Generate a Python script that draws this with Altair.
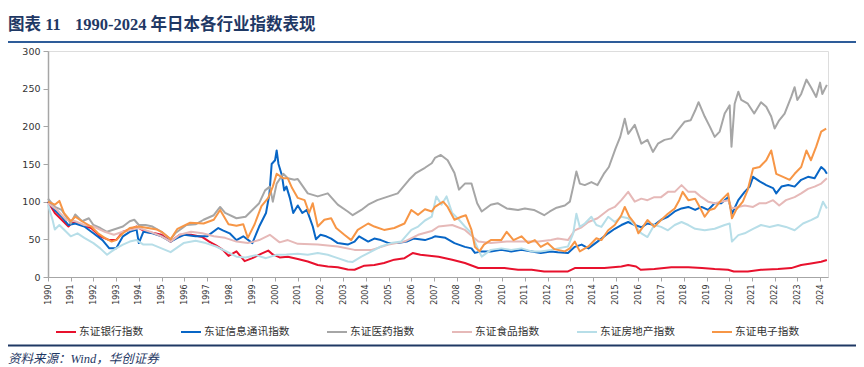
import altair as alt
import pandas as pd

TITLE_NO = "图表 11"
TITLE_TEXT = "1990-2024 年日本各行业指数表现"
SOURCE = "资料来源：Wind，华创证券"

SERIES = ["东证银行指数", "东证信息通讯指数", "东证医药指数", "东证食品指数", "东证房地产指数", "东证电子指数"]
COLORS = ["#E8112D", "#0866C6", "#A6A6A6", "#E6B9B8", "#B7DEE8", "#F79646"]

YEAR_TICKS = list(range(1990, 2025))
Y_TICKS = [0, 50, 100, 150, 200, 250, 300]

bank_x = [1990.0, 1990.3, 1990.6, 1990.9, 1991.1, 1991.5, 1991.9, 1992.3, 1992.7, 1993.0, 1993.3, 1993.6, 1993.9,
          1994.3, 1994.7, 1995.0, 1995.4, 1995.8, 1996.3, 1996.8, 1997.1, 1997.4, 1997.7, 1997.95, 1998.3, 1998.66,
          1999.0, 1999.4, 1999.7, 1999.9, 2000.2, 2000.56, 2001.0, 2001.44, 2001.88, 2002.32, 2002.76, 2003.2, 2003.5,
          2003.93, 2004.37, 2004.8, 2005.25, 2005.7, 2006.06, 2006.4, 2006.9, 2007.2, 2007.8, 2008.36, 2008.95, 2009.5,
          2010.1, 2010.7, 2011.3, 2011.85, 2012.45, 2012.9, 2013.2, 2013.8, 2014.5, 2015.25, 2015.55, 2015.9, 2016.1,
          2016.7, 2017.45, 2018.2, 2018.8, 2019.36, 2019.95, 2020.2, 2020.82, 2021.4, 2022.15, 2022.73, 2023.17,
          2023.6, 2024.05, 2024.3]
bank_v = [100, 85, 76, 67, 74, 69, 65, 54, 49, 49, 60, 63, 67,
          60, 58, 56, 47, 56, 56, 53, 47, 42, 36, 28, 34, 21,
          25, 31, 35, 30, 26, 27, 24, 20.6, 16, 14, 13, 10, 9.6,
          15, 16, 18.5, 23, 25, 31.8, 29.5, 28, 27, 23, 18.5, 12, 12,
          12, 9.6, 9.6, 7.4, 7.4, 7.4, 11.8, 11.8, 12, 14, 16, 14, 9.6,
          10.5, 13, 13, 11.8, 10.5, 9.6, 7.4, 7.4, 9.6, 10.5, 11.8, 16,
          18, 20.3, 22.5]

info_x = [1990.0, 1990.3, 1990.6, 1990.9, 1991.2, 1991.6, 1992.0, 1992.4, 1992.7, 1993.0, 1993.3, 1993.6, 1993.9,
          1994.0, 1994.2, 1994.6, 1995.0, 1995.4, 1995.7, 1996.0, 1996.5, 1997.0, 1997.5, 1997.7, 1998.0, 1998.3,
          1998.6, 1999.0, 1999.3, 1999.6, 1999.75, 1999.85, 2000.0, 2000.07, 2000.15, 2000.3, 2000.4, 2000.5, 2000.65,
          2000.8, 2001.0, 2001.2, 2001.4, 2001.66, 2001.8, 2002.0, 2002.25, 2002.47, 2002.76, 2003.2, 2003.5, 2003.7,
          2004.1, 2004.37, 2004.66, 2005.0, 2005.4, 2005.8, 2006.1, 2006.6, 2006.9, 2007.04, 2007.5, 2007.9, 2008.36,
          2008.65, 2008.8, 2009.1, 2009.5, 2009.96, 2010.4, 2010.85, 2011.3, 2011.7, 2012.15, 2012.45, 2012.9, 2013.2,
          2013.5, 2013.8, 2014.2, 2014.67, 2014.96, 2015.25, 2015.55, 2015.84, 2016.13, 2016.4, 2016.7, 2017.0, 2017.3,
          2017.6, 2017.9, 2018.2, 2018.5, 2018.78, 2019.07, 2019.36, 2019.65, 2019.95, 2020.12, 2020.4, 2020.68, 2020.9,
          2021.05, 2021.34, 2021.63, 2021.93, 2022.07, 2022.3, 2022.6, 2022.88, 2023.17, 2023.47, 2023.76, 2024.05,
          2024.2, 2024.3]
info_v = [100, 89, 80, 69, 71, 67, 58, 49, 38, 38, 54, 60, 63,
          45, 60, 58, 54, 47, 52, 56, 54, 54, 65, 62, 58, 49,
          54, 45, 67, 85, 110, 150, 155, 168, 150, 135, 115, 120, 105,
          85, 95, 85, 89, 67, 50, 56, 54, 51, 45, 43, 47, 54,
          47, 51, 49, 45, 45, 47, 51, 49, 52, 54, 52, 45, 40,
          38, 32, 34, 34, 36, 34, 36, 34, 32, 34, 33, 32, 40,
          43, 38, 47, 58, 64, 69, 73, 69, 66, 71, 69, 76, 80,
          87, 91, 93, 89, 93, 89, 98, 98, 106, 84, 102, 113, 120,
          133, 127, 122, 118, 111, 120, 122, 120, 129, 133, 131, 146,
          142, 137]

pharma_x = [1990.0, 1990.3, 1990.6, 1990.8, 1991.0, 1991.2, 1991.5, 1991.8, 1992.0, 1992.3, 1992.6, 1992.9, 1993.3,
            1993.6, 1993.8, 1994.0, 1994.3, 1994.6, 1995.0, 1995.4, 1995.6, 1996.1, 1996.5, 1996.85, 1997.3, 1997.58,
            1997.8, 1998.3, 1998.7, 1999.0, 1999.3, 1999.56, 1999.77, 1999.9, 2000.07, 2000.36, 2000.56, 2000.85,
            2001.0, 2001.44, 2001.88, 2002.32, 2002.76, 2003.2, 2003.42, 2003.8, 2004.1, 2004.5, 2005.0, 2005.4,
            2005.9, 2006.2, 2006.6, 2006.9, 2007.04, 2007.3, 2007.6, 2007.9, 2008.1, 2008.36, 2008.65, 2008.9, 2009.1,
            2009.5, 2009.8, 2010.2, 2010.7, 2011.0, 2011.4, 2011.85, 2012.1, 2012.4, 2012.76, 2012.98, 2013.13,
            2013.27, 2013.42, 2013.64, 2013.93, 2014.2, 2014.5, 2014.7, 2015.0, 2015.2, 2015.4, 2015.55, 2015.84,
            2016.13, 2016.4, 2016.64, 2016.86, 2017.15, 2017.45, 2017.74, 2018.03, 2018.3, 2018.5, 2018.65, 2018.92,
            2019.14, 2019.36, 2019.58, 2019.8, 2020.02, 2020.1, 2020.24, 2020.4, 2020.53, 2020.82, 2021.1, 2021.4,
            2021.63, 2021.85, 2022.0, 2022.2, 2022.44, 2022.73, 2022.88, 2023.0, 2023.17, 2023.4, 2023.6, 2023.83,
            2024.0, 2024.1, 2024.3]
pharma_v = [104, 93, 89, 80, 71, 83, 74, 78, 69, 65, 60, 63, 67,
            74, 76, 69, 69, 67, 60, 50, 58, 69, 70, 76, 82, 93,
            85, 78, 80, 89, 98, 115, 120, 100, 124, 137, 131, 129,
            130, 111, 107, 111, 96, 87, 82, 89, 96, 102, 107, 111,
            129, 138, 145, 151, 158, 162, 155, 138, 116, 124, 124, 98, 87,
            96, 98, 91, 89, 91, 89, 82, 87, 92, 95, 100, 120,
            140, 124, 122, 126, 122, 138, 146, 171, 186, 210, 190, 202,
            177, 182, 166, 177, 182, 184, 195, 206, 208, 221, 232, 213,
            200, 186, 193, 217, 228, 173, 230, 246, 235, 230, 217, 232,
            226, 213, 197, 208, 217, 239, 252, 235, 243, 262, 252, 239,
            258, 243, 255]

food_x = [1990.0, 1990.4, 1990.8, 1991.2, 1991.6, 1992.0, 1992.5, 1992.9, 1993.3, 1993.7, 1994.0, 1994.5, 1995.0,
          1995.4, 1995.8, 1996.3, 1996.8, 1997.3, 1997.8, 1998.3, 1998.8, 1999.3, 1999.77, 2000.2, 2000.56, 2001.0,
          2001.88, 2002.76, 2003.5, 2004.25, 2005.0, 2005.7, 2006.3, 2006.9, 2007.2, 2007.8, 2008.36, 2008.95, 2009.5,
          2010.2, 2011.0, 2011.6, 2012.15, 2012.45, 2012.9, 2013.2, 2013.5, 2013.8, 2014.2, 2014.67, 2014.96, 2015.25,
          2015.55, 2015.84, 2016.13, 2016.4, 2016.7, 2017.0, 2017.3, 2017.6, 2017.9, 2018.2, 2018.5, 2018.78, 2019.07,
          2019.36, 2019.65, 2019.95, 2020.12, 2020.4, 2020.68, 2021.05, 2021.34, 2021.63, 2021.93, 2022.2, 2022.5,
          2022.88, 2023.17, 2023.47, 2023.76, 2024.05, 2024.3]
food_v = [98, 89, 76, 74, 69, 67, 60, 56, 60, 63, 65, 60, 54,
          47, 56, 60, 58, 54, 52, 47, 45, 49, 56, 46, 49, 44,
          43, 40.5, 36, 36, 43, 47, 56, 61, 67, 69, 62.5, 47, 45,
          47, 47, 47, 49, 51, 49, 62, 66, 73, 78, 89, 93, 102,
          113, 100, 104, 102, 106, 106, 113, 113, 122, 113, 113, 106, 100,
          98, 100, 102, 91, 93, 95, 93, 98, 98, 102, 95, 102,
          106, 111, 117, 120, 124, 131]

estate_x = [1990.0, 1990.2, 1990.3, 1990.5, 1990.8, 1991.0, 1991.3, 1991.6, 1992.0, 1992.3, 1992.6, 1992.8, 1993.0,
            1993.3, 1993.6, 1993.9, 1994.2, 1994.6, 1995.0, 1995.4, 1995.97, 1996.5, 1996.95, 1997.4, 1997.85, 1998.3,
            1998.7, 1999.15, 1999.6, 2000.07, 2000.5, 2001.0, 2001.44, 2001.88, 2002.32, 2002.76, 2003.2, 2003.42,
            2003.8, 2004.25, 2004.66, 2005.1, 2005.55, 2006.0, 2006.3, 2006.6, 2006.9, 2007.1, 2007.33, 2007.55, 2007.8,
            2008.1, 2008.36, 2008.65, 2008.95, 2009.1, 2009.5, 2009.96, 2010.4, 2010.85, 2011.3, 2011.7, 2012.15,
            2012.45, 2012.9, 2013.13, 2013.27, 2013.42, 2013.64, 2013.93, 2014.15, 2014.37, 2014.67, 2014.96, 2015.25,
            2015.55, 2015.84, 2016.13, 2016.4, 2016.7, 2017.0, 2017.3, 2017.6, 2017.9, 2018.2, 2018.5, 2018.92,
            2019.36, 2019.8, 2020.02, 2020.12, 2020.4, 2020.68, 2021.05, 2021.4, 2021.78, 2022.15, 2022.5, 2022.88,
            2023.25, 2023.6, 2023.9, 2024.13, 2024.3]
estate_v = [96, 76, 63, 69, 60, 54, 58, 52, 45, 38, 29.5, 34, 38,
            43, 47, 49, 43, 43, 38, 33, 45, 48, 45, 40.5, 34, 27,
            26, 29, 25, 29.5, 30, 31, 29.5, 31.8, 29.5, 25, 20.6, 20,
            27, 34, 40.5, 45, 47, 62.5, 67, 75, 80, 107, 96, 107, 85,
            76, 67, 58, 36, 27, 36, 38, 36, 38, 34, 34, 36,
            38, 40.5, 58, 84, 66.5, 71, 80, 69, 66.5, 80, 73, 80,
            78, 69, 58, 53, 69, 66.5, 62, 69, 73, 69, 64, 62,
            64, 69, 71, 47, 55.6, 58, 64, 69, 66.5, 69, 66.5, 62,
            71, 75.6, 80, 100, 91]

elec_x = [1990.0, 1990.3, 1990.5, 1990.7, 1991.0, 1991.2, 1991.5, 1991.9, 1992.2, 1992.5, 1992.8, 1993.0, 1993.3,
          1993.6, 1994.0, 1994.4, 1994.8, 1995.0, 1995.4, 1995.7, 1996.26, 1996.85, 1997.3, 1997.58, 1997.95, 1998.3,
          1998.6, 1998.8, 1999.1, 1999.4, 1999.7, 1999.9, 2000.07, 2000.36, 2000.56, 2000.75, 2001.0, 2001.3, 2001.5,
          2001.66, 2001.88, 2002.17, 2002.47, 2002.69, 2003.05, 2003.35, 2003.64, 2004.1, 2004.37, 2004.8, 2005.25,
          2005.7, 2006.0, 2006.3, 2006.6, 2006.9, 2007.04, 2007.4, 2007.6, 2007.9, 2008.2, 2008.4, 2008.65, 2008.8,
          2009.0, 2009.2, 2009.5, 2009.96, 2010.2, 2010.5, 2010.85, 2011.15, 2011.44, 2011.7, 2012.0, 2012.3, 2012.76,
          2012.98, 2013.2, 2013.42, 2013.8, 2014.15, 2014.37, 2014.67, 2014.96, 2015.25, 2015.4, 2015.6, 2015.84,
          2016.0, 2016.2, 2016.4, 2016.7, 2017.0, 2017.3, 2017.6, 2017.8, 2017.95, 2018.2, 2018.5, 2018.7, 2018.92,
          2019.14, 2019.36, 2019.65, 2019.95, 2020.12, 2020.3, 2020.6, 2020.82, 2021.05, 2021.34, 2021.63, 2021.85,
          2022.07, 2022.37, 2022.66, 2022.88, 2023.17, 2023.4, 2023.6, 2023.83, 2024.05, 2024.27]
elec_v = [100, 96, 101, 85, 74, 80, 74, 67, 58, 52, 47, 49, 58,
          65, 67, 65, 63, 60, 50, 64, 72, 71, 76, 89, 70, 68,
          70, 52, 70, 94, 105, 120, 137, 131, 131, 118, 105, 102, 85,
          98, 67, 76, 78, 65, 56, 49, 62.5, 71, 67, 62.5, 65,
          71, 89, 82.5, 90, 87, 93, 100, 93, 76, 80, 82, 62.5, 40,
          34, 43, 49, 49, 60, 49, 54, 45, 49, 40, 45, 37, 34,
          38, 47, 34, 40.5, 51.5, 49, 62, 69, 82, 93, 80, 71,
          58, 66.5, 75.6, 66.5, 75.6, 84, 91, 102, 113, 102, 104, 93, 80,
          89, 91, 102, 111, 78, 89, 100, 116, 144, 146, 155, 168,
          137, 133, 129, 137, 146, 168, 155, 173, 193, 197]

rows = []
for name, xs, vs in zip(SERIES,
                        [bank_x, info_x, pharma_x, food_x, estate_x, elec_x],
                        [bank_v, info_v, pharma_v, food_v, estate_v, elec_v]):
    for x, v in zip(xs, vs):
        rows.append({"series": name, "year": x, "value": v})
df = pd.DataFrame(rows)

W, H = 780, 226

lines = alt.Chart(df).mark_line(strokeWidth=2, strokeJoin="round").encode(
    x=alt.X("year:Q",
            scale=alt.Scale(domain=[1990, 2024.35], nice=False, zero=False),
            axis=alt.Axis(values=YEAR_TICKS, format="d", labelAngle=270, labelFontSize=8,
                          labelFont="DejaVu Sans", labelColor="#333333", labelPadding=3,
                          tickSize=4, tickColor="#A6A6A6", domainColor="#A6A6A6", domainWidth=1.2,
                          grid=False, title=None, labelOverlap=False)),
    y=alt.Y("value:Q",
            scale=alt.Scale(domain=[0, 300], nice=False),
            axis=alt.Axis(values=Y_TICKS, labelFontSize=9.5, labelFont="DejaVu Sans",
                          labelColor="#333333", labelPadding=3, tickSize=5, tickColor="#A6A6A6",
                          domainColor="#A6A6A6", domainWidth=1.5, grid=False, title=None)),
    color=alt.Color("series:N",
                    scale=alt.Scale(domain=SERIES, range=COLORS),
                    legend=alt.Legend(orient="none", legendX=7, legendY=270, direction="horizontal",
                                      columns=6, title=None, symbolType="stroke", symbolSize=400,
                                      symbolStrokeWidth=2, labelFont="Noto Sans CJK SC",
                                      labelFontSize=10.7, labelColor="#333333", labelOffset=2,
                                      columnPadding=33, padding=0, symbolOffset=0, gridAlign="none")),
)

title1 = alt.Chart(pd.DataFrame({"t": [TITLE_NO]})).mark_text(
    align="left", baseline="alphabetic", font="Liberation Serif, Noto Sans CJK SC",
    fontSize=16.5, fontWeight="bold", color="#1F3864").encode(
    x=alt.value(-40), y=alt.value(-21), text="t:N")

title2 = alt.Chart(pd.DataFrame({"t": [TITLE_TEXT]})).mark_text(
    align="left", baseline="alphabetic", font="Liberation Serif, Noto Sans CJK SC",
    fontSize=16.5, fontWeight="bold", color="#1F3864").encode(
    x=alt.value(27), y=alt.value(-21), text="t:N")

top_rule = alt.Chart(pd.DataFrame({"a": [0]})).mark_rule(color="#2E5C99", strokeWidth=2).encode(
    x=alt.value(-40), x2=alt.value(808), y=alt.value(-9))

bottom_rule = alt.Chart(pd.DataFrame({"a": [0]})).mark_rule(color="#1F3864", strokeWidth=2.2).encode(
    x=alt.value(-40), x2=alt.value(808), y=alt.value(294.5))

source = alt.Chart(pd.DataFrame({"t": [SOURCE]})).mark_text(
    align="left", baseline="alphabetic", font="Liberation Serif, Noto Sans CJK SC",
    fontSize=12.5, fontStyle="italic", color="#1F3864").encode(
    x=alt.value(-40), y=alt.value(312), text="t:N")

chart = alt.layer(lines, title1, title2, top_rule, bottom_rule, source).properties(
    width=W, height=H,
    autosize=alt.AutoSizeParams(type="none"),
    padding={"left": 40, "top": 43, "right": 28, "bottom": 91},
).configure_view(stroke=None).configure(background="white")

chart.save("out.html", embed_options={"renderer": "svg", "actions": False})
